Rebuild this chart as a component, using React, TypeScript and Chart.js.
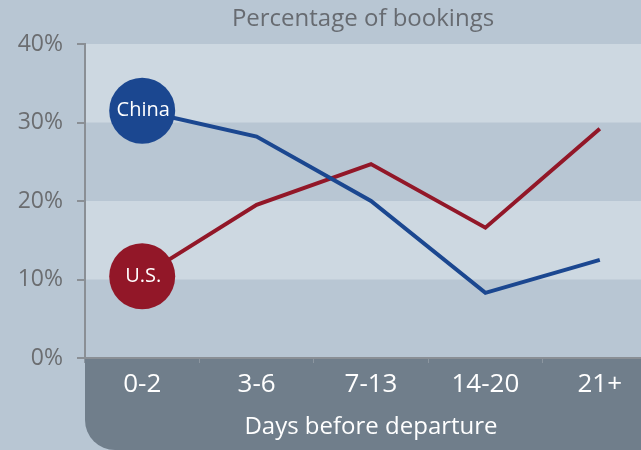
import React, { useEffect, useRef } from "react";
import { Chart, registerables } from "chart.js";

Chart.register(...registerables);

const categories = ["0-2", "3-6", "7-13", "14-20", "21+"];
const chinaValues = [31.5, 28.2, 20.0, 8.3, 12.5];
const usValues = [10.4, 19.5, 24.7, 16.6, 29.2];
const seriesNames = ["China", "U.S."];
const yTicks = [0, 10, 20, 30, 40];
const chartTitle = "Percentage of bookings";
const xTitle = "Days before departure";

const FONT = "'Open Sans', sans-serif";
const BLUE = "#1b4790";
const RED = "#921728";

const decorPlugin = {
  id: "decor",
  beforeDraw(chart: any) {
    const { ctx, chartArea, scales } = chart;
    const W = chart.width;
    const H = chart.height;
    ctx.save();
    ctx.fillStyle = "#b8c6d3";
    ctx.fillRect(0, 0, W, H);
    const y = scales.y;
    ctx.fillStyle = "#cdd8e1";
    [[30, 40], [10, 20]].forEach(([a, b]) => {
      const y1 = y.getPixelForValue(b);
      const y2 = y.getPixelForValue(a);
      ctx.fillRect(chartArea.left, y1, chartArea.right - chartArea.left, y2 - y1);
    });
    // dark x-axis region with rounded bottom-left corner
    const l = chartArea.left;
    const t = chartArea.bottom;
    const r = W;
    const b = H;
    const rad = 30;
    ctx.fillStyle = "#707e8b";
    ctx.beginPath();
    ctx.moveTo(l, t);
    ctx.lineTo(r, t);
    ctx.lineTo(r, b);
    ctx.lineTo(l + rad, b);
    ctx.arcTo(l, b, l, b - rad, rad);
    ctx.closePath();
    ctx.fill();
    // title
    ctx.fillStyle = "#676b71";
    ctx.font = `24px ${FONT}`;
    ctx.textAlign = "center";
    ctx.textBaseline = "middle";
    ctx.fillText(chartTitle, (chartArea.left + 641) / 2, 19);
    ctx.restore();
  },
  afterDatasetsDraw(chart: any) {
    const { ctx } = chart;
    ctx.save();
    ctx.fillStyle = "#ffffff";
    ctx.font = `20px ${FONT}`;
    ctx.textAlign = "center";
    ctx.textBaseline = "middle";
    chart.data.datasets.forEach((ds: any, i: number) => {
      const pt = chart.getDatasetMeta(i).data[0];
      ctx.fillText(seriesNames[i], pt.x + 1, pt.y);
    });
    ctx.restore();
  },
};

export default function App() {
  const ref = useRef<HTMLCanvasElement>(null);
  useEffect(() => {
    if (!ref.current) return;
    const radii = [33, 0, 0, 0, 0];
    const chart = new Chart(ref.current, {
      type: "line",
      data: {
        labels: categories,
        datasets: [
          {
            label: seriesNames[0],
            data: chinaValues,
            borderColor: BLUE,
            backgroundColor: BLUE,
            borderWidth: 4,
            pointRadius: radii,
            pointBackgroundColor: BLUE,
            pointBorderWidth: 0,
            tension: 0,
          },
          {
            label: seriesNames[1],
            data: usValues,
            borderColor: RED,
            backgroundColor: RED,
            borderWidth: 4,
            pointRadius: radii,
            pointBackgroundColor: RED,
            pointBorderWidth: 0,
            tension: 0,
          },
        ],
      },
      options: {
        responsive: false,
        animation: false,
        layout: { autoPadding: false, padding: { top: 44, right: 3, left: 0, bottom: 0 } },
        plugins: { legend: { display: false }, tooltip: { enabled: false }, title: { display: false } },
        scales: {
          x: {
            type: "category",
            offset: true,
            grid: { display: true, drawOnChartArea: false, offset: true, tickLength: 5, color: "#8c96a0", lineWidth: 1 },
            border: { display: true, color: "#8a8f95", width: 2 },
            ticks: { color: "#ffffff", font: { family: FONT, size: 26 }, padding: 6 },
            title: { display: true, text: xTitle, color: "#ffffff", font: { family: FONT, size: 24 }, padding: { top: 0, bottom: 8 } },
            afterFit(scale: any) {
              scale.height = 92;
              scale.paddingLeft = 0;
              scale.paddingRight = 0;
            },
          },
          y: {
            min: 0,
            max: 40,
            afterBuildTicks(scale: any) { scale.ticks = yTicks.map((v) => ({ value: v })); },
            grid: { display: true, drawOnChartArea: false, tickLength: 8, color: "#8a8f95", lineWidth: 2 },
            border: { display: true, color: "#8a8f95", width: 2 },
            ticks: { color: "#6b6d70", font: { family: FONT, size: 23 }, padding: 14, callback: (v: any) => `${v}%` },
            afterFit(scale: any) { scale.width = 85; },
          },
        },
      },
      plugins: [decorPlugin],
    });
    return () => chart.destroy();
  }, []);
  return (
    <div style={{ position: "fixed", left: 0, top: 0, width: 641, height: 450, overflow: "hidden" }}>
      <canvas ref={ref} width={660} height={450} style={{ display: "block" }} />
    </div>
  );
}
